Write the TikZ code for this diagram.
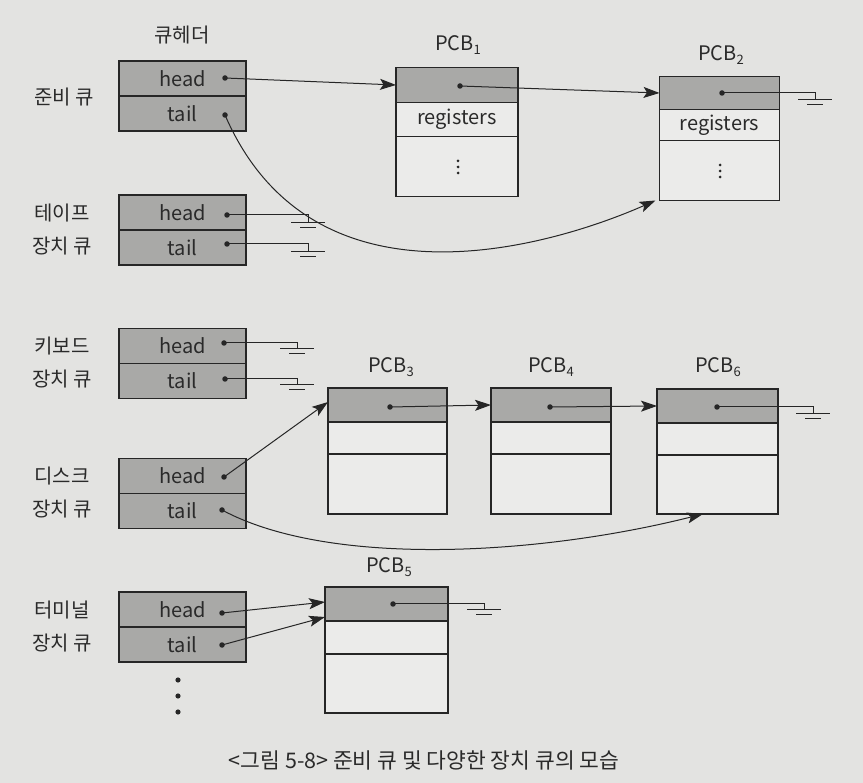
\documentclass[tikz,border=0pt]{standalone}
\usepackage{fontspec}
\setmainfont{Noto Sans CJK KR}
\usetikzlibrary{arrows.meta,calc}
\definecolor{bgc}{HTML}{E3E3E1}
\definecolor{shadec}{HTML}{A9A9A7}
\definecolor{lightc}{HTML}{EBEBEA}
\definecolor{linec}{HTML}{262626}
\definecolor{textc}{HTML}{2A2A2A}
\tikzset{
  qcell/.style={draw=linec, line width=1.1pt, fill=shadec, minimum width=127pt, minimum height=35pt,
    inner sep=0pt, outer sep=0pt, text=textc, font=\fontsize{20}{20}\selectfont},
  ptop/.style={draw=linec, line width=1.1pt, fill=shadec, inner sep=0pt, outer sep=0pt},
  plow/.style={draw=linec, line width=1.1pt, fill=lightc, inner sep=0pt, outer sep=0pt,
    text=textc, font=\fontsize{20}{20}\selectfont},
  qlabel/.style={text=textc, font=\fontsize{20}{33}\selectfont, align=center, inner sep=0pt},
  plabel/.style={text=textc, font=\fontsize{20}{20}\selectfont, inner sep=0pt},
  dotn/.style={circle, fill=linec, inner sep=0pt, minimum size=5.5pt, outer sep=0pt},
  conn/.style={draw=linec, line width=1pt},
  arr/.style={conn, -{Stealth[length=16pt,width=11pt,inset=3.5pt]}},
  ground/.pic={\draw[conn] (-17,0)--(17,0); \draw[conn] (-8,5)--(8,5);}
}
\newcommand{\pcbname}[1]{PCB\raisebox{-0.3ex}{\fontsize{13}{13}\selectfont #1}}
\begin{document}
\begin{tikzpicture}[x=1pt,y=-1pt]
\useasboundingbox (0,0) rectangle (863,783);
\fill[bgc] (0,0) rectangle (863,783);

% ---- queue header column ----
\node[qlabel] (hdr) at (182,35) {큐헤더};

\node[qcell] (rqh) at (182.5,78.5) {head};
\node[qcell] (rqt) at (182.5,113.5) {tail};
\node[qlabel] (rql) at (64,97) {준비 큐};

\node[qcell] (tqh) at (182.5,212.5) {head};
\node[qcell] (tqt) at (182.5,247.5) {tail};
\node[qlabel] (tql) at (62,230) {테이프\\장치 큐};

\node[qcell] (kqh) at (182.5,346) {head};
\node[qcell] (kqt) at (182.5,381) {tail};
\node[qlabel] (kql) at (62,363) {키보드\\장치 큐};

\node[qcell] (dqh) at (182.5,476) {head};
\node[qcell] (dqt) at (182.5,511) {tail};
\node[qlabel] (dql) at (62,493) {디스크\\장치 큐};

\node[qcell] (mqh) at (182.5,609.5) {head};
\node[qcell] (mqt) at (182.5,644.5) {tail};
\node[qlabel] (mql) at (62,627) {터미널\\장치 큐};

\fill[linec] (178,680) circle (2.6) (178,696) circle (2.6) (178,712) circle (2.6);

% dots in header cells
\node[dotn] (rqhd) at (225,78) {};
\node[dotn] (rqtd) at (225,115) {};
\node[dotn] (tqhd) at (227,215) {};
\node[dotn] (tqtd) at (227,244) {};
\node[dotn] (kqhd) at (224,343) {};
\node[dotn] (kqtd) at (225,379) {};
\node[dotn] (dqhd) at (224,477) {};
\node[dotn] (dqtd) at (222,510) {};
\node[dotn] (mqhd) at (222,613) {};
\node[dotn] (mqtd) at (222,645) {};

% ---- PCB1 ----
\node[plabel] (p1l) at (458,45) {\pcbname{1}};
\node[ptop, minimum width=122pt, minimum height=35pt] (p1t) at (457,85) {};
\node[plow, minimum width=122pt, minimum height=34pt] (p1r) at (457,119.5) {registers};
\node[plow, minimum width=122pt, minimum height=60pt] (p1b) at (457,166.5) {};
\fill[linec] (458,161) circle (1.5) (458,167) circle (1.5) (458,173) circle (1.5);
\node[dotn] (p1d) at (460,86) {};

% ---- PCB2 ----
\node[plabel] (p2l) at (721,55) {\pcbname{2}};
\node[ptop, minimum width=120pt, minimum height=33pt] (p2t) at (719.5,93) {};
\node[plow, minimum width=120pt, minimum height=31pt] (p2r) at (719.5,125) {registers};
\node[plow, minimum width=120pt, minimum height=60pt] (p2b) at (719.5,170.5) {};
\fill[linec] (720,165) circle (1.5) (720,171) circle (1.5) (720,177) circle (1.5);
\node[dotn] (p2d) at (722,93) {};

% ---- PCB3 ----
\node[plabel] (p3l) at (391,367) {\pcbname{3}};
\node[ptop, minimum width=119pt, minimum height=34pt] (p3t) at (387.5,405) {};
\node[plow, minimum width=119pt, minimum height=32pt] (p3r) at (387.5,438) {};
\node[plow, minimum width=119pt, minimum height=60pt] (p3b) at (387.5,484) {};
\node[dotn] (p3d) at (390,407) {};

% ---- PCB4 ----
\node[plabel] (p4l) at (551,367) {\pcbname{4}};
\node[ptop, minimum width=120pt, minimum height=34pt] (p4t) at (551,405) {};
\node[plow, minimum width=120pt, minimum height=32pt] (p4r) at (551,438) {};
\node[plow, minimum width=120pt, minimum height=60pt] (p4b) at (551,484) {};
\node[dotn] (p4d) at (550,407) {};

% ---- PCB6 ----
\node[plabel] (p6l) at (718,367) {\pcbname{6}};
\node[ptop, minimum width=121pt, minimum height=34pt] (p6t) at (717.5,406) {};
\node[plow, minimum width=121pt, minimum height=32pt] (p6r) at (717.5,439) {};
\node[plow, minimum width=121pt, minimum height=59pt] (p6b) at (717.5,484.5) {};
\node[dotn] (p6d) at (717,407) {};

% ---- PCB5 ----
\node[plabel] (p5l) at (389,567) {\pcbname{5}};
\node[ptop, minimum width=123pt, minimum height=34pt] (p5t) at (386.5,604) {};
\node[plow, minimum width=123pt, minimum height=33pt] (p5r) at (386.5,637.5) {};
\node[plow, minimum width=123pt, minimum height=59pt] (p5b) at (386.5,683.5) {};
\node[dotn] (p5d) at (393,604) {};

% ---- connectors ----
\draw[arr] (rqhd.center) -- (p1t.west);
\draw[arr] (p1d.center) -- (p2t.west);
\draw[arr] (rqtd.center) .. controls (324,343) and (609,221) .. ($(p2b.south west)+(-4,0)$);

\coordinate (g2) at (815,100);
\draw[conn] (p2d.center) -| (g2); \pic at (g2) {ground};

\coordinate (gth) at (308,223);
\draw[conn] (tqhd.center) -| (gth); \pic at (gth) {ground};
\coordinate (gtt) at (308,252);
\draw[conn] (tqtd.center) -| (gtt); \pic at (gtt) {ground};

\coordinate (gkh) at (297,349);
\draw[conn] (kqhd.center) -| (gkh); \pic at (gkh) {ground};
\coordinate (gkt) at (297,385);
\draw[conn] (kqtd.center) -| (gkt); \pic at (gkt) {ground};

\draw[arr] (dqhd.center) -- ($(p3t.west)+(0,-3)$);
\draw[arr] (p3d.center) -- (p4t.west);
\draw[arr] (p4d.center) -- (p6t.west);
\draw[arr] (dqtd.center) .. controls (330,568) and (540,555) .. ($(p6b.south west)+(46,0)$);
\coordinate (g6) at (813,414);
\draw[conn] (p6d.center) -| (g6); \pic at (g6) {ground};

\draw[arr] (mqhd.center) -- ($(p5t.west)+(0,-2)$);
\draw[arr] (mqtd.center) -- ($(p5t.west)+(0,13)$);
\coordinate (g5) at (484,610);
\draw[conn] (p5d.center) -| (g5); \pic at (g5) {ground};

% ---- caption ----
\node[text=textc, font=\fontsize{21.5}{21.5}\selectfont, inner sep=0pt] (cap) at (424,760) {<그림 5-8> 준비 큐 및 다양한 장치 큐의 모습};
\end{tikzpicture}
\end{document}
